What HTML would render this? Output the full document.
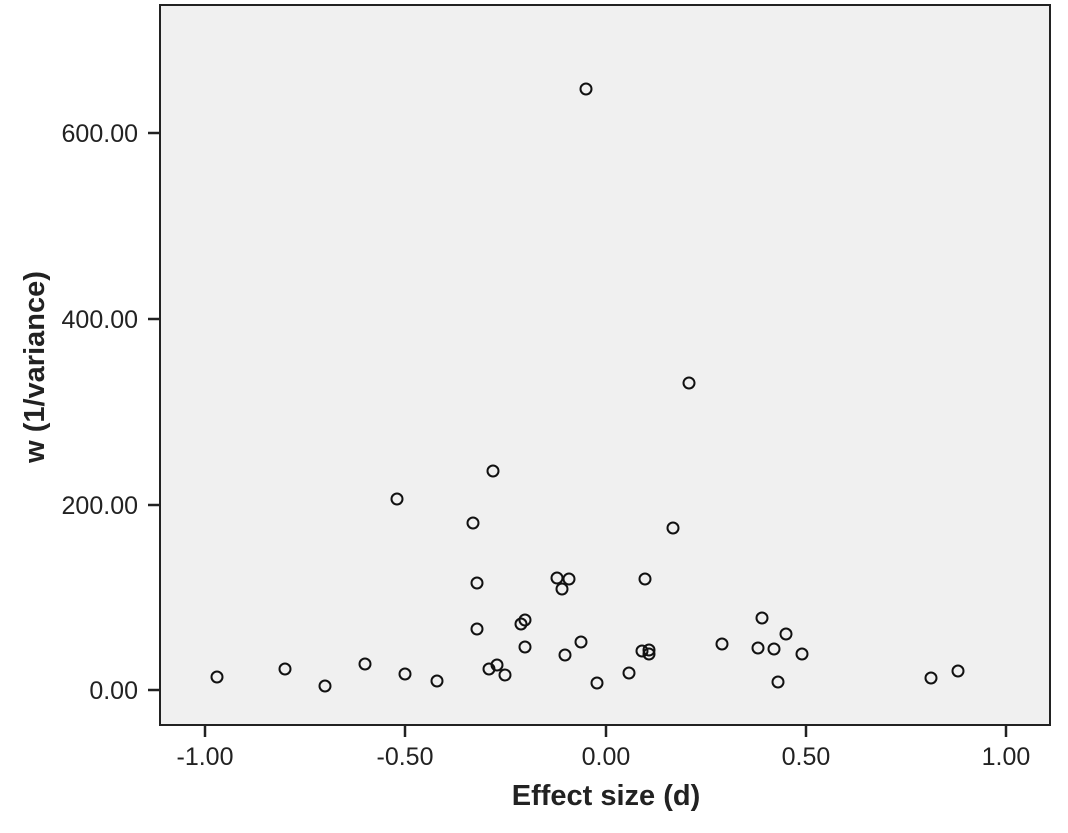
<!DOCTYPE html>
<html><head><style>body{margin:0;background:#fff}</style></head><body>
<svg width="1068" height="828" xmlns="http://www.w3.org/2000/svg" font-family="Liberation Sans, sans-serif">
<rect x="160" y="5" width="890" height="720" fill="#f0f0f0" stroke="#222" stroke-width="2"/>
<g stroke="#222" stroke-width="2.5">
<line x1="148" y1="133" x2="160" y2="133"/><line x1="148" y1="319" x2="160" y2="319"/>
<line x1="148" y1="505" x2="160" y2="505"/><line x1="148" y1="690" x2="160" y2="690"/>
<line x1="205" y1="725" x2="205" y2="737"/><line x1="405" y1="725" x2="405" y2="737"/>
<line x1="606" y1="725" x2="606" y2="737"/><line x1="806" y1="725" x2="806" y2="737"/>
<line x1="1006" y1="725" x2="1006" y2="737"/>
</g>
<g font-size="25" fill="#222" text-anchor="end">
<text x="138" y="142">600.00</text><text x="138" y="328">400.00</text>
<text x="138" y="514">200.00</text><text x="138" y="699">0.00</text>
</g>
<g font-size="25" fill="#222" text-anchor="middle">
<text x="205" y="765">-1.00</text><text x="405" y="765">-0.50</text><text x="606" y="765">0.00</text>
<text x="806" y="765">0.50</text><text x="1006" y="765">1.00</text>
</g>
<text x="606" y="805" font-size="29" font-weight="bold" text-anchor="middle" fill="#222">Effect size (d)</text>
<text transform="translate(44,367) rotate(-90)" font-size="29" font-weight="bold" text-anchor="middle" fill="#222">w (1/variance)</text>
<g fill="none" stroke="#111" stroke-width="2">
<circle cx="586" cy="89" r="5.5"/><circle cx="689" cy="383" r="5.5"/><circle cx="493" cy="471" r="5.5"/>
<circle cx="397" cy="499" r="5.5"/><circle cx="473" cy="523" r="5.5"/><circle cx="673" cy="528" r="5.5"/>
<circle cx="477" cy="583" r="5.5"/><circle cx="557" cy="578" r="5.5"/><circle cx="569" cy="579" r="5.5"/>
<circle cx="562" cy="589" r="5.5"/><circle cx="645" cy="579" r="5.5"/><circle cx="525" cy="620" r="5.5"/>
<circle cx="521" cy="624" r="5.5"/><circle cx="477" cy="629" r="5.5"/><circle cx="762" cy="618" r="5.5"/>
<circle cx="786" cy="634" r="5.5"/><circle cx="525" cy="647" r="5.5"/><circle cx="581" cy="642" r="5.5"/>
<circle cx="565" cy="655" r="5.5"/><circle cx="642" cy="651" r="5.5"/><circle cx="649" cy="650" r="5.5"/>
<circle cx="649" cy="654" r="5.5"/><circle cx="722" cy="644" r="5.5"/><circle cx="758" cy="648" r="5.5"/>
<circle cx="774" cy="649" r="5.5"/><circle cx="802" cy="654" r="5.5"/><circle cx="365" cy="664" r="5.5"/>
<circle cx="497" cy="665" r="5.5"/><circle cx="489" cy="669" r="5.5"/><circle cx="285" cy="669" r="5.5"/>
<circle cx="505" cy="675" r="5.5"/><circle cx="405" cy="674" r="5.5"/><circle cx="629" cy="673" r="5.5"/>
<circle cx="958" cy="671" r="5.5"/><circle cx="931" cy="678" r="5.5"/><circle cx="217" cy="677" r="5.5"/>
<circle cx="437" cy="681" r="5.5"/><circle cx="597" cy="683" r="5.5"/><circle cx="778" cy="682" r="5.5"/>
<circle cx="325" cy="686" r="5.5"/>
</g>
</svg>
</body></html>
